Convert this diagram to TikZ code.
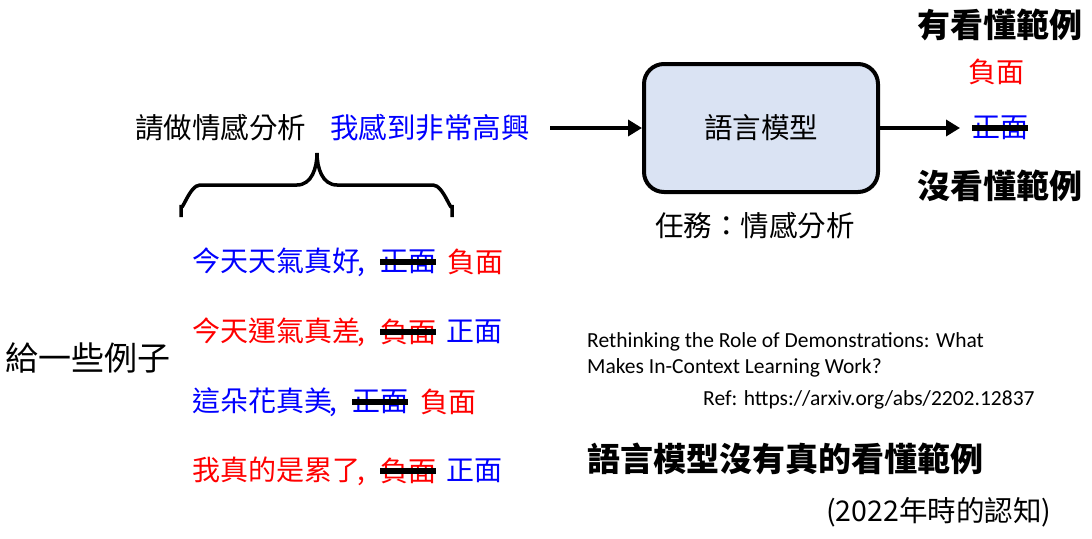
\documentclass[tikz,border=0pt]{standalone}
\usepackage{fontspec}
\setmainfont{Carlito}
\newfontfamily\cjk{Noto Sans CJK TC}
\usetikzlibrary{arrows.meta}
\definecolor{boxfill}{HTML}{DAE3F3}
\definecolor{posblue}{HTML}{0000FF}
\definecolor{negred}{HTML}{FF0000}
\tikzset{
  txt/.style={inner sep=0pt, anchor=west, font=\cjk\fontsize{28}{32}\selectfont},
  big/.style={inner sep=0pt, anchor=west, font=\cjk\bfseries\fontsize{33}{36}\selectfont},
  ref/.style={inner sep=0pt, anchor=west, font=\fontsize{21.5}{25}\selectfont},
  strike/.style={line width=6pt},
  flow/.style={line width=4pt, -{Triangle[length=14pt,width=16pt]}},
  lmbox/.style={draw, line width=4pt, fill=boxfill, rounded corners=20pt,
    minimum width=234pt, minimum height=128pt, font=\cjk\fontsize{28.5}{32}\selectfont}
}
\begin{document}
\begin{tikzpicture}[x=1pt,y=-1pt]
  \useasboundingbox (0,0) rectangle (1092,538);
  % prompt
  \node[txt, font=\cjk\fontsize{28.5}{32}\selectfont] (ask) at (135,128) {請做情感分析};
  \node[txt, text=posblue, font=\cjk\fontsize{28.5}{32}\selectfont] (query) at (330,128) {我感到非常高興};
  \node[lmbox] (lm) at (761,128) {語言模型};
  \node[txt, font=\cjk\fontsize{28.5}{32}\selectfont] (task) at (655,226) {任務：情感分析};
  \coordinate (in) at (550,128);
  \coordinate (out) at (960,128);
  \draw[flow] (in) -- (lm.west);
  \draw[flow] (lm.east) -- (out);
  % outputs
  \node[big] (seen) at (917,25) {有看懂範例};
  \node[txt, text=negred] (neg) at (968,72) {負面};
  \node[txt, text=posblue] (pos) at (972,128) {正面};
  \draw[strike] (pos.west) -- (pos.east);
  \node[big] (unseen) at (917,186) {沒看懂範例};
  % brace
  \draw[line width=3.5pt] (181,217) -- (181,205) to[out=-90,in=180] (200,185)
    -- (297,185) to[out=0,in=-90] (317,153);
  \draw[line width=3.5pt] (452,217) -- (452,205) to[out=-90,in=0] (433,185)
    -- (337,185) to[out=180,in=-90] (317,153);
  % demonstrations
  \node[txt, font=\cjk\fontsize{33}{36}\selectfont] (give) at (5,358) {給一些例子};
  \node[txt, text=posblue] (ex1) at (192,262) {今天天氣真好\kern-3pt,};
  \node[txt, text=posblue] (ex1a) at (380,262) {正面};
  \node[txt, text=negred] (ex1b) at (447,262) {負面};
  \node[txt, text=negred] (ex2) at (192,332) {今天運氣真差\kern-3pt,};
  \node[txt, text=negred] (ex2a) at (380,332) {負面};
  \node[txt, text=posblue] (ex2b) at (446,332) {正面};
  \node[txt, text=posblue] (ex3) at (192,402) {這朵花真美\kern-3pt,};
  \node[txt, text=posblue] (ex3a) at (352,402) {正面};
  \node[txt, text=negred] (ex3b) at (420,402) {負面};
  \node[txt, text=negred] (ex4) at (192,471) {我真的是累了\kern-3pt,};
  \node[txt, text=negred] (ex4a) at (380,471) {負面};
  \node[txt, text=posblue] (ex4b) at (446,471) {正面};
  \draw[strike] (ex1a.west) -- (ex1a.east);
  \draw[strike] (ex2a.west) -- (ex2a.east);
  \draw[strike] (ex3a.west) -- (ex3a.east);
  \draw[strike] (ex4a.west) -- (ex4a.east);
  % reference
  \node[ref] (paper1) at (587,342) {Rethinking the Role of Demonstrations: What};
  \node[ref] (paper2) at (587,368) {Makes In-Context Learning Work?};
  \node[ref] (url) at (703,400) {Ref: https://arxiv.org/abs/2202.12837};
  \node[big] (concl) at (587,459) {語言模型沒有真的看懂範例};
  \node[txt, font=\cjk\fontsize{28.5}{32}\selectfont] (year) at (826,512) {(2022年時的認知)};
\end{tikzpicture}
\end{document}
